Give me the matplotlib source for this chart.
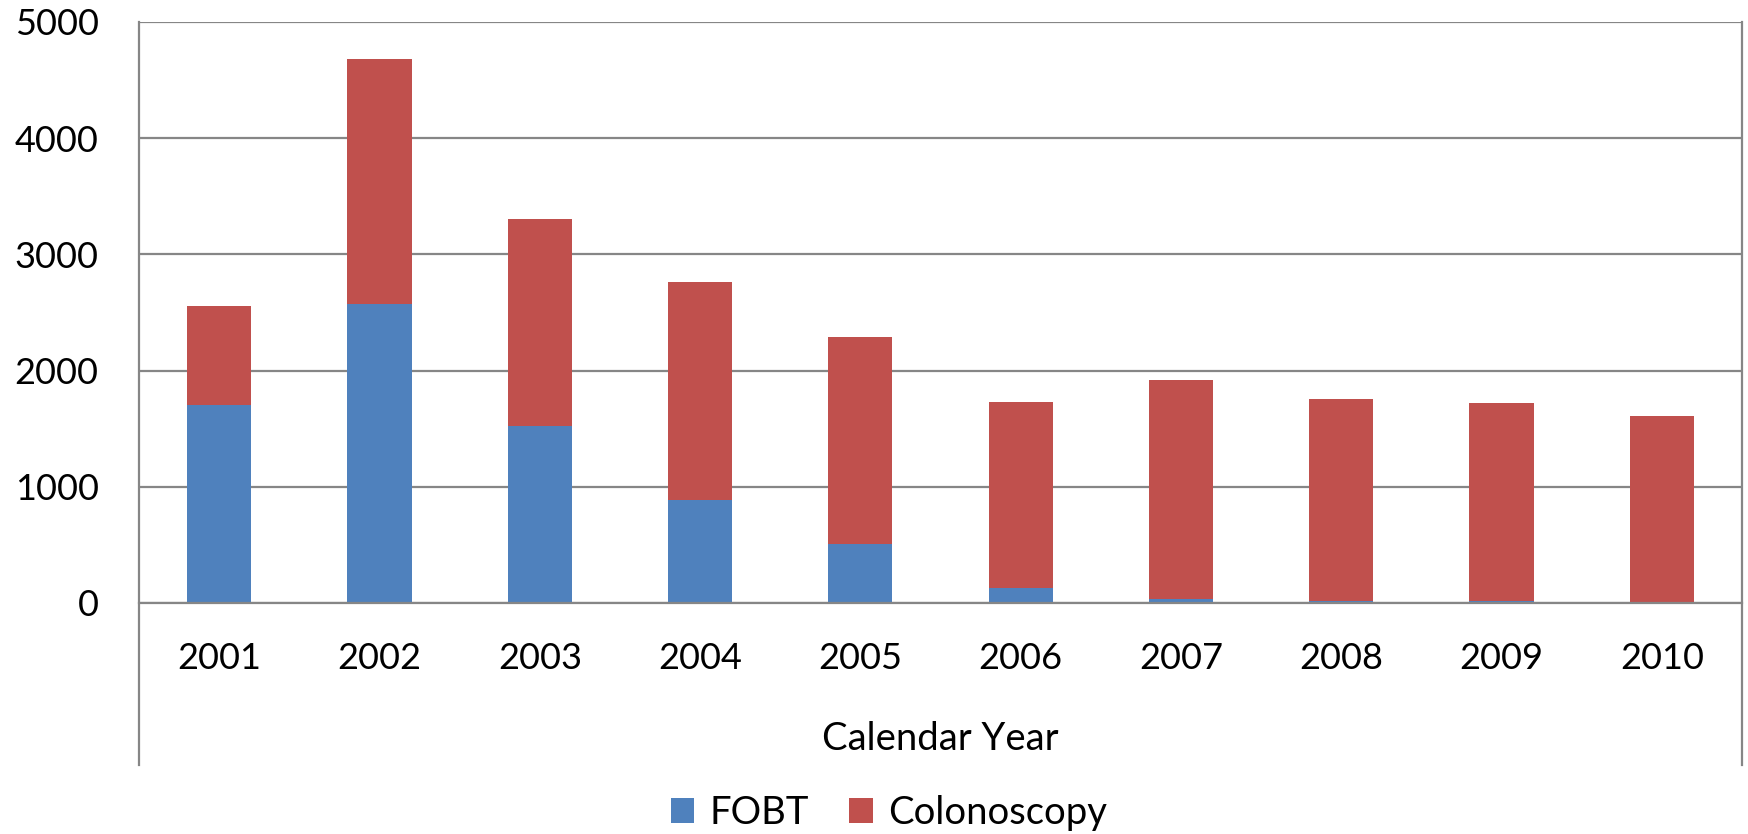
import matplotlib
matplotlib.use("Agg")
import matplotlib.pyplot as plt
from matplotlib.lines import Line2D
import numpy as np

years = ["2001", "2002", "2003", "2004", "2005", "2006", "2007", "2008", "2009", "2010"]
fobt = [1700, 2575, 1520, 884, 505, 125, 38, 15, 13, 6]
totals = [2560, 4680, 3305, 2765, 2290, 1728, 1920, 1755, 1725, 1605]
colonoscopy = [t - f for t, f in zip(totals, fobt)]
yticks = [0, 1000, 2000, 3000, 4000, 5000]

plt.rcParams['font.family'] = ['Lato', 'DejaVu Sans']

W, H = 1748, 834
fig = plt.figure(figsize=(W / 100, H / 100), dpi=100)
left, right, top, bottom = 139, 1742, 22, 603
ax = fig.add_axes([left / W, 1 - bottom / H, (right - left) / W, (bottom - top) / H])

x = np.arange(len(years))
blue = '#4F81BD'
red = '#C0504D'
ax.bar(x, fobt, width=0.4, color=blue, label='FOBT', zorder=3)
ax.bar(x, colonoscopy, width=0.4, bottom=fobt, color=red, label='Colonoscopy', zorder=3)

ax.set_xlim(-0.5, len(years) - 0.5)
ax.set_ylim(0, 5000)
ax.set_yticks(yticks)
ax.set_yticklabels([str(v) for v in yticks])
ax.set_xticks(x)
ax.set_xticklabels(years)
ax.tick_params(axis='both', length=0, labelsize=26, colors='black')
ax.tick_params(axis='y', pad=29)
ax.tick_params(axis='x', pad=28)

gridc = '#868686'
ax.yaxis.grid(True, color=gridc, linewidth=1.6, zorder=0)
ax.set_axisbelow(True)
for s in ['top', 'right', 'left', 'bottom']:
    ax.spines[s].set_visible(False)

# axis lines (left/right extend below to enclose the category area)
ext = 765
y0 = 1 - ext / H
for xp in [left, right]:
    fig.add_artist(Line2D([xp / W, xp / W], [y0, 1 - top / H], color=gridc, linewidth=1.6))
fig.add_artist(Line2D([left / W, right / W], [1 - bottom / H] * 2, color=gridc, linewidth=1.6))

fig.text((left + right) / 2 / W, 1 - 739 / H, 'Calendar Year', ha='center', va='center', fontsize=27.5)

fig.legend(loc='center', bbox_to_anchor=(889 / W, 1 - 813 / H), ncol=2, frameon=False,
           fontsize=27.5, handlelength=0.62, handleheight=0.62, handletextpad=0.4, columnspacing=1.05)

fig.savefig('out.png', dpi=100)
